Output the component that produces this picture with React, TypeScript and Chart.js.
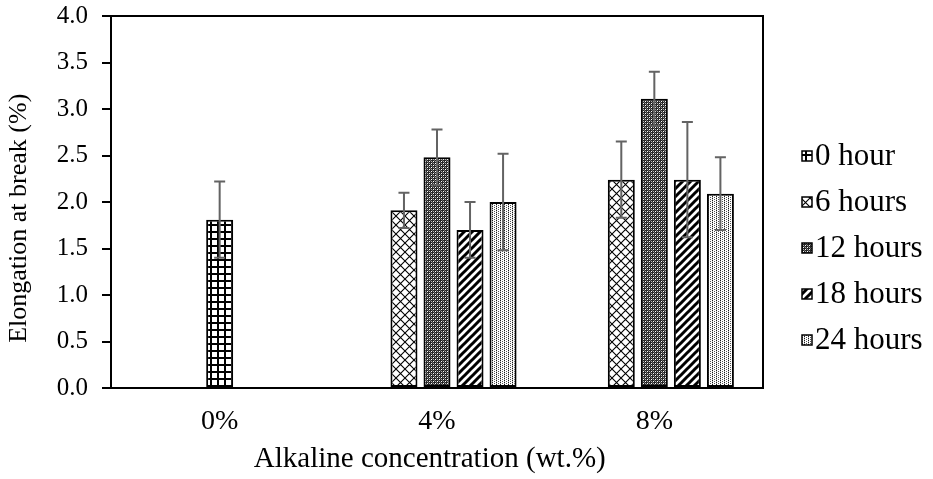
import React, { useEffect, useRef } from 'react';
import { Chart, registerables } from 'chart.js';

Chart.register(...registerables);

// ---------- data ----------
const categories = ['0%', '4%', '8%'];
const seriesNames = ['0 hour', '6 hours', '12 hours', '18 hours', '24 hours'];
// 0 hour only measured at 0%; zeros keep its (empty) slot in the other groups
const h0 = [1.81, 0, 0];
const h6 = [null, 1.91, 2.24];
const h12 = [null, 2.48, 3.11];
const h18 = [null, 1.7, 2.24];
const h24 = [null, 2.0, 2.09];
const e0 = [0.41, 0, 0];
const e6 = [null, 0.19, 0.41];
const e12 = [null, 0.3, 0.29];
const e18 = [null, 0.3, 0.62];
const e24 = [null, 0.52, 0.39];
const yMin = 0;
const yMax = 4;
const yStep = 0.5;

const FONT = "'Liberation Serif', 'Times New Roman', serif";
const NB = '\u00a0';

function tile(w: number, h: number, draw: (c: CanvasRenderingContext2D) => void) {
  const cv = document.createElement('canvas');
  cv.width = w;
  cv.height = h;
  const c = cv.getContext('2d')!;
  c.fillStyle = '#ffffff';
  c.fillRect(0, 0, w, h);
  draw(c);
  return cv;
}

function makePatterns(ctx: CanvasRenderingContext2D): CanvasPattern[] {
  const grid = tile(7, 7, (c) => {
    c.fillStyle = '#000';
    c.fillRect(0, 0, 7, 2);
    c.fillRect(0, 0, 2, 7);
  });
  const cross = tile(9, 9, (c) => {
    c.strokeStyle = '#000';
    c.lineWidth = 1.1;
    c.beginPath();
    c.moveTo(0, 0); c.lineTo(9, 9);
    c.moveTo(9, 0); c.lineTo(0, 9);
    c.stroke();
  });
  const dense = tile(4, 4, (c) => {
    c.fillStyle = '#262626';
    c.fillRect(0, 0, 4, 4);
    c.fillStyle = '#ffffff';
    c.fillRect(1, 1, 1, 1);
    c.fillRect(3, 3, 1, 1);
    c.fillStyle = '#b0b0b0';
    c.fillRect(1, 3, 1, 1);
    c.fillRect(3, 1, 1, 1);
    c.fillStyle = '#6a6a6a';
    c.fillRect(0, 2, 1, 1);
    c.fillRect(2, 0, 1, 1);
  });
  const stripes = tile(8, 8, (c) => {
    c.strokeStyle = '#000';
    c.lineWidth = 3;
    c.beginPath();
    c.moveTo(-1, 9); c.lineTo(9, -1);
    c.moveTo(-5, 5); c.lineTo(5, -5);
    c.moveTo(3, 13); c.lineTo(13, 3);
    c.stroke();
  });
  const dots = tile(4, 2, (c) => {
    c.fillStyle = '#1a1a1a';
    c.fillRect(0, 0, 1, 1);
    c.fillStyle = '#555';
    c.fillRect(2, 1, 1, 1);
    c.fillStyle = '#bbb';
    c.fillRect(0, 1, 1, 1);
  });
  return [grid, cross, dense, stripes, dots].map((t) => ctx.createPattern(t, 'repeat')!);
}

const errorBarPlugin = {
  id: 'errorBars',
  afterDatasetsDraw(chart: any) {
    const { ctx } = chart;
    const y = chart.scales.y;
    chart.data.datasets.forEach((ds: any, i: number) => {
      const meta = chart.getDatasetMeta(i);
      meta.data.forEach((el: any, j: number) => {
        const v = ds.data[j];
        const e = ds.errors[j];
        if (v == null || !e || v === 0) return;
        const x = el.x;
        const yt = y.getPixelForValue(v + e);
        const yb = y.getPixelForValue(v - e);
        ctx.save();
        ctx.strokeStyle = '#636363';
        ctx.lineWidth = 2;
        ctx.beginPath();
        ctx.moveTo(x, yt); ctx.lineTo(x, yb);
        ctx.moveTo(x - 5.5, yt); ctx.lineTo(x + 5.5, yt);
        ctx.moveTo(x - 5.5, yb); ctx.lineTo(x + 5.5, yb);
        ctx.stroke();
        ctx.restore();
      });
    });
  },
};

const framePlugin = {
  id: 'frame',
  afterDraw(chart: any) {
    const { ctx, chartArea } = chart;
    ctx.save();
    ctx.strokeStyle = '#000';
    ctx.lineWidth = 2;
    ctx.strokeRect(chartArea.left, chartArea.top, chartArea.right - chartArea.left, chartArea.bottom - chartArea.top);
    ctx.restore();
  },
};

const legendPlugin = {
  id: 'patternLegend',
  afterDraw(chart: any) {
    const { ctx, chartArea } = chart;
    const x0 = chartArea.right + 39;
    const mid = (chartArea.top + chartArea.bottom) / 2 + 46;
    const step = 46;
    const n = chart.data.datasets.length;
    chart.data.datasets.forEach((ds: any, i: number) => {
      const cy = mid + (i - (n - 1) / 2) * step;
      ctx.save();
      ctx.fillStyle = ds.backgroundColor;
      ctx.fillRect(x0, cy - 5, 10, 10);
      ctx.strokeStyle = '#000';
      ctx.lineWidth = 1.5;
      ctx.strokeRect(x0, cy - 5, 10, 10);
      ctx.fillStyle = '#000';
      ctx.font = `31px ${FONT}`;
      ctx.textBaseline = 'middle';
      ctx.textAlign = 'left';
      ctx.fillText(ds.label, x0 + 13, cy + 1);
      ctx.restore();
    });
  },
};

export default function App() {
  const ref = useRef<HTMLCanvasElement>(null);
  useEffect(() => {
    const canvas = ref.current!;
    const ctx = canvas.getContext('2d')!;
    const patterns = makePatterns(ctx);
    const values = [h0, h6, h12, h18, h24];
    const errs = [e0, e6, e12, e18, e24];
    const chart = new Chart(canvas, {
      type: 'bar',
      data: {
        labels: categories,
        datasets: seriesNames.map((name, i) => ({
          label: name,
          data: values[i] as any,
          errors: errs[i],
          backgroundColor: patterns[i] as any,
          borderColor: '#000',
          borderWidth: 2,
          borderSkipped: false,
          skipNull: true,
          maxBarThickness: 27,
          categoryPercentage: 0.76,
          barPercentage: 0.82,
        })) as any,
      },
      options: {
        animation: false,
        responsive: false,
        layout: { padding: { top: 16, right: 170, left: 0, bottom: 0 } },
        plugins: { legend: { display: false }, tooltip: { enabled: false } },
        scales: {
          x: {
            grid: { display: false, drawTicks: false },
            border: { display: true, color: '#000', width: 2 },
            ticks: { color: '#000', font: { family: FONT, size: 28 }, padding: 17 },
            title: {
              display: true,
              text: 'Alkaline concentration (wt.%)' + NB + NB,
              color: '#000',
              font: { family: FONT, size: 29 },
              padding: { top: 0, bottom: 2 },
            },
            afterFit: (s: any) => { s.height = 91; },
          },
          y: {
            min: yMin,
            max: yMax,
            ticks: {
              stepSize: yStep,
              color: '#000',
              font: { family: FONT, size: 25 },
              padding: 14,
              callback: (v: any) => Number(v).toFixed(1),
            },
            grid: { display: true, drawOnChartArea: false, drawTicks: true, tickLength: 9, color: '#000', lineWidth: 2 },
            border: { display: true, color: '#000', width: 2 },
            title: {
              display: true,
              text: 'Elongation at break (%)' + NB.repeat(5),
              color: '#000',
              font: { family: FONT, size: 26 },
              padding: { top: 4, bottom: 4 },
            },
            afterFit: (s: any) => {
              s.width = 111;
              s.paddingTop = 0;
              s.paddingBottom = 0;
            },
          },
        },
      },
      plugins: [errorBarPlugin, framePlugin, legendPlugin],
    });
    return () => chart.destroy();
  }, []);
  return (
    <div style={{ position: 'fixed', left: 0, top: 0, width: 933, height: 479, background: '#fff' }}>
      <canvas ref={ref} width={933} height={479} style={{ display: 'block' }} />
    </div>
  );
}
